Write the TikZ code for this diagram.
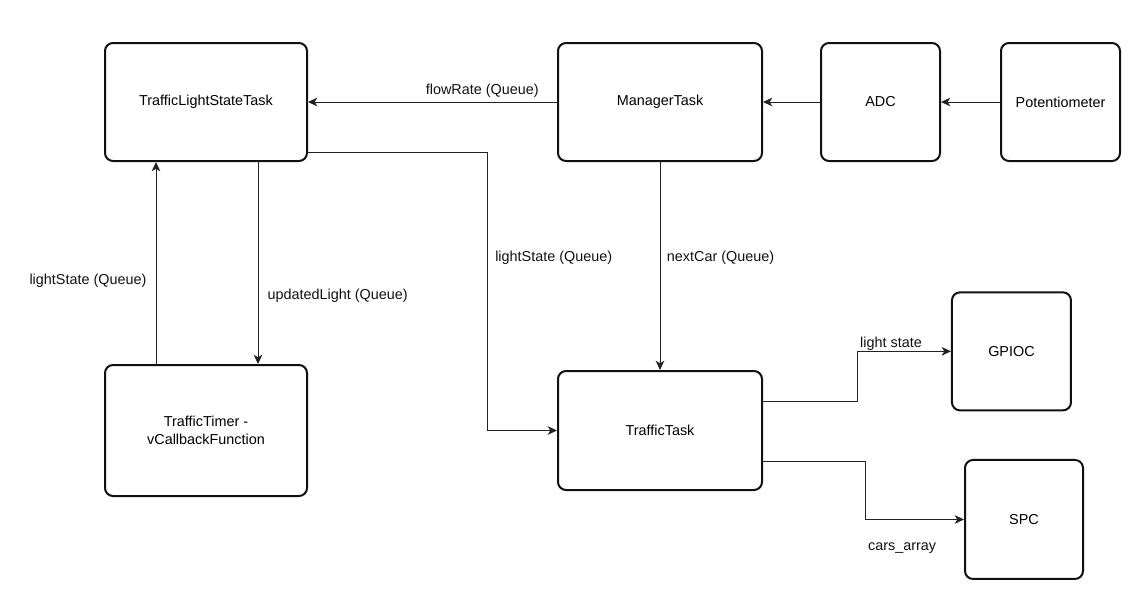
\documentclass[tikz,border=0pt]{standalone}
\usepackage{fontspec}
\setmainfont{Liberation Sans}
\usepackage{tikz}
\usetikzlibrary{arrows.meta,positioning}
\definecolor{Ink}{RGB}{17,17,17}
\definecolor{Wire}{RGB}{34,34,34}
\tikzset{
  taskbox/.style={draw=Ink,line width=1.5pt,rounded corners=6pt,fill=white,inner sep=0pt,minimum width=151.5pt,minimum height=88.5pt,align=center,font=\fontsize{10.8}{13}\selectfont},
  devbox/.style={taskbox,minimum width=89.25pt},
  flow/.style={-{Stealth[length=7pt,width=6.5pt,inset=2pt]},line width=0.75pt,draw=Wire},
  lbl/.style={font=\fontsize{10.8}{13}\selectfont,text=Ink}
}
\begin{document}
\begin{tikzpicture}
\useasboundingbox (0,0) rectangle (859.5pt,-453pt);
\node[taskbox] (lightTask) at (154.5pt,-76.5pt) {TrafficLightStateTask};
\node[taskbox,minimum width=153pt,right=186.75pt of lightTask] (manager) {ManagerTask};
\node[devbox,right=42.75pt of manager] (adc) {ADC};
\node[devbox,right=44.25pt of adc] (pot) {Potentiometer};
\node[taskbox,minimum height=98.25pt,below=151.5pt of lightTask] (timer) {TrafficTimer -\\vCallbackFunction};
\node[taskbox,minimum width=153pt,minimum height=89.25pt,below=156pt of manager] (traffic) {TrafficTask};
\node[devbox] (gpioc) at (758.6pt,-263.5pt) {GPIOC};
\node[devbox,minimum width=88.5pt,minimum height=89.25pt] (spc) at (768pt,-389.6pt) {SPC};
\coordinate (lsBend) at (365.25pt,0);
\coordinate (gpBend) at (642.75pt,0);
\coordinate (spBend) at (648.75pt,0);
% top row
\draw[flow] (pot) -- (adc);
\draw[flow] (adc) -- (manager);
\draw[flow] (manager) -- (lightTask) node[lbl,above,pos=0.3] {flowRate (Queue)};
% queues between tasks
\draw[flow] ([yshift=7.5pt]lightTask.south east) -| (lsBend |- traffic.west) node[lbl,right,xshift=2.5pt,pos=0.69] {lightState (Queue)} -- (traffic.west);
\draw[flow] (manager) -- (traffic) node[lbl,right,xshift=1.5pt,pos=0.46] {nextCar (Queue)};
\draw[flow] ([xshift=39pt]lightTask.south) -- ([xshift=39pt]timer.north) node[lbl,right,xshift=3.5pt,pos=0.66] {updatedLight (Queue)};
\draw[flow] ([xshift=-37.5pt]timer.north) -- ([xshift=-37.5pt]lightTask.south) node[lbl,left,xshift=-3.5pt,pos=0.41] {lightState (Queue)};
% outputs
\draw[flow] ([yshift=21.4pt]traffic.east) -| (gpBend |- gpioc.west) node[lbl,above right,inner sep=2pt,yshift=-1.5pt] {light state} -- (gpioc.west);
\draw[flow] ([yshift=-23.2pt]traffic.east) -| (spBend |- spc.west) node[lbl,below right,inner sep=2pt,yshift=-15pt] {cars\_array} -- (spc.west);
\end{tikzpicture}
\end{document}
